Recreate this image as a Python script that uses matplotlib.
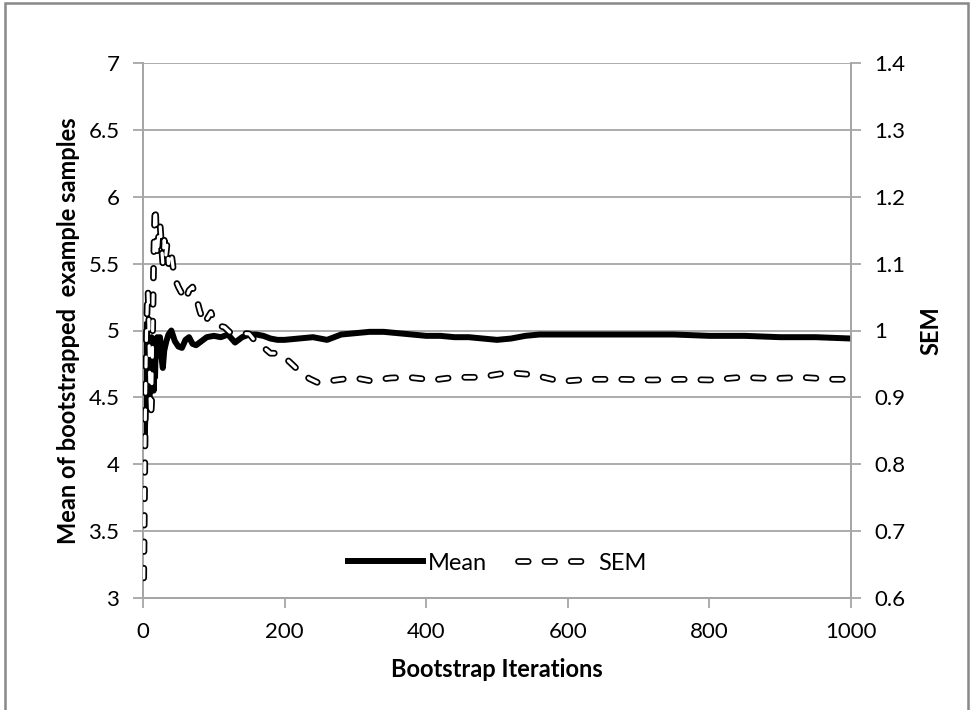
import matplotlib
matplotlib.use("Agg")
import matplotlib.pyplot as plt
import matplotlib.patheffects as pe
from matplotlib.patches import Rectangle

# bootstrap iteration vs running mean (left axis)
mean_iter = [1, 2, 3, 4, 5, 6, 7, 8, 9, 10, 11, 12, 13, 14, 15, 16, 17, 18, 20, 22,
             24, 26, 28, 30, 33, 36, 40, 45, 50, 55, 60, 65, 70, 75, 80, 90, 100, 110,
             120, 130, 140, 150, 160, 170, 180, 190, 200, 220, 240, 260, 280, 300, 320,
             340, 360, 380, 400, 420, 440, 460, 480, 500, 520, 540, 560, 580, 600, 650,
             700, 750, 800, 850, 900, 950, 1000]
mean_vals = [4.85, 4.2, 4.3, 4.6, 5.05, 4.9, 4.45, 4.75, 4.5, 4.85, 4.55, 4.95, 4.6, 4.9,
             4.55, 4.8, 4.65, 4.9, 4.95, 4.85, 4.95, 4.8, 4.72, 4.85, 4.92, 4.97, 5.0,
             4.92, 4.88, 4.87, 4.93, 4.95, 4.9, 4.89, 4.91, 4.95, 4.96, 4.95, 4.97, 4.91,
             4.95, 4.97, 4.97, 4.96, 4.94, 4.93, 4.93, 4.94, 4.95, 4.93, 4.97, 4.98, 4.99,
             4.99, 4.98, 4.97, 4.96, 4.96, 4.95, 4.95, 4.94, 4.93, 4.94, 4.96, 4.97, 4.97,
             4.97, 4.97, 4.97, 4.97, 4.96, 4.96, 4.95, 4.95, 4.94]

# bootstrap iteration vs SEM (right axis)
sem_iter = [1, 2, 3, 4, 5, 6, 7, 8, 9, 10, 11, 12, 13, 14, 15, 16, 17, 18, 19, 20, 22,
            24, 26, 28, 30, 32, 34, 36, 38, 40, 43, 46, 50, 55, 60, 65, 70, 75, 80, 86,
            92, 96, 100, 107, 115, 124, 138, 150, 160, 170, 180, 190, 200, 210, 220, 235,
            247, 260, 280, 300, 320, 350, 375, 410, 440, 475, 515, 550, 590, 630, 675,
            720, 760, 800, 845, 890, 930, 975, 1000]
sem_vals = [0.63, 0.74, 0.85, 0.93, 1.0, 1.04, 1.06, 1.03, 0.96, 0.9, 0.87, 0.89, 0.95,
            1.03, 1.1, 1.15, 1.185, 1.17, 1.13, 1.11, 1.14, 1.16, 1.13, 1.1, 1.135, 1.11,
            1.13, 1.1, 1.12, 1.115, 1.09, 1.075, 1.065, 1.055, 1.045, 1.06, 1.065, 1.05,
            1.03, 1.01, 1.02, 1.027, 1.015, 1.007, 1.005, 0.996, 0.996, 0.995, 0.982,
            0.975, 0.966, 0.966, 0.96, 0.95, 0.94, 0.928, 0.922, 0.924, 0.927, 0.929,
            0.925, 0.929, 0.93, 0.926, 0.93, 0.93, 0.937, 0.934, 0.924, 0.927, 0.927,
            0.926, 0.927, 0.926, 0.93, 0.928, 0.93, 0.927, 0.927]

left_ticks = [3, 3.5, 4, 4.5, 5, 5.5, 6, 6.5, 7]
right_ticks = [0.6, 0.7, 0.8, 0.9, 1.0, 1.1, 1.2, 1.3, 1.4]
x_ticks = [0, 200, 400, 600, 800, 1000]

plt.rcParams['font.family'] = ['Lato', 'DejaVu Sans']
plt.rcParams['lines.scale_dashes'] = False
GRID = "#a6a6a6"
TICK_FS = 16
LABEL_FS = 17

fig = plt.figure(figsize=(9.73, 7.10), dpi=100)
ax = fig.add_axes([143 / 973, 1 - 598 / 710, 708 / 973, 535 / 710])
ax2 = ax.twinx()

ax.set_xlim(0, 1000)
ax.set_ylim(3, 7)
ax2.set_ylim(0.6, 1.4)
ax.set_xticks(x_ticks)
ax.set_yticks(left_ticks)
ax.set_yticklabels([f"{t:g}" for t in left_ticks])
ax2.set_yticks(right_ticks)
ax2.set_yticklabels([f"{t:.1f}" if t != 1.0 else "1" for t in right_ticks])

ax.yaxis.grid(True, color=GRID, linewidth=1.3)
ax.set_axisbelow(True)

for a in (ax, ax2):
    for s in a.spines.values():
        s.set_color(GRID)
        s.set_linewidth(1.3)
    a.spines["top"].set_visible(False)
    a.tick_params(colors=GRID, labelcolor="black", labelsize=TICK_FS, length=7,
                  width=1.3, pad=10)

ax.plot(mean_iter, mean_vals, color="black", linewidth=4.3, zorder=3,
        solid_joinstyle="round", label="Mean")

ax2.plot(sem_iter, sem_vals, color="white", linewidth=2.3,
         dashes=(7, 12), dash_capstyle="round", zorder=3, label="SEM",
         path_effects=[pe.Stroke(linewidth=4.8, foreground="black"), pe.Normal()])

ax.set_xlabel("Bootstrap Iterations", fontsize=LABEL_FS, fontweight="bold", labelpad=12)
ax.set_ylabel("Mean of bootstrapped  example samples", fontsize=LABEL_FS,
              fontweight="bold", labelpad=6)
ax2.set_ylabel("SEM", fontsize=LABEL_FS, fontweight="bold", labelpad=10)

h1, l1 = ax.get_legend_handles_labels()
h2, l2 = ax2.get_legend_handles_labels()
ax2.legend(h1 + h2, l1 + l2, loc="center", bbox_to_anchor=(0.5, 0.065),
           ncol=2, frameon=False, fontsize=LABEL_FS, handlelength=3.2,
           columnspacing=1.3, handletextpad=0.2)

fig.patches.append(Rectangle((5 / 973, -0.02), 963 / 973, 1.02 - 3 / 710,
                             transform=fig.transFigure, fill=False,
                             edgecolor="#888888", linewidth=1.8))

fig.savefig("out.png", dpi=100)
